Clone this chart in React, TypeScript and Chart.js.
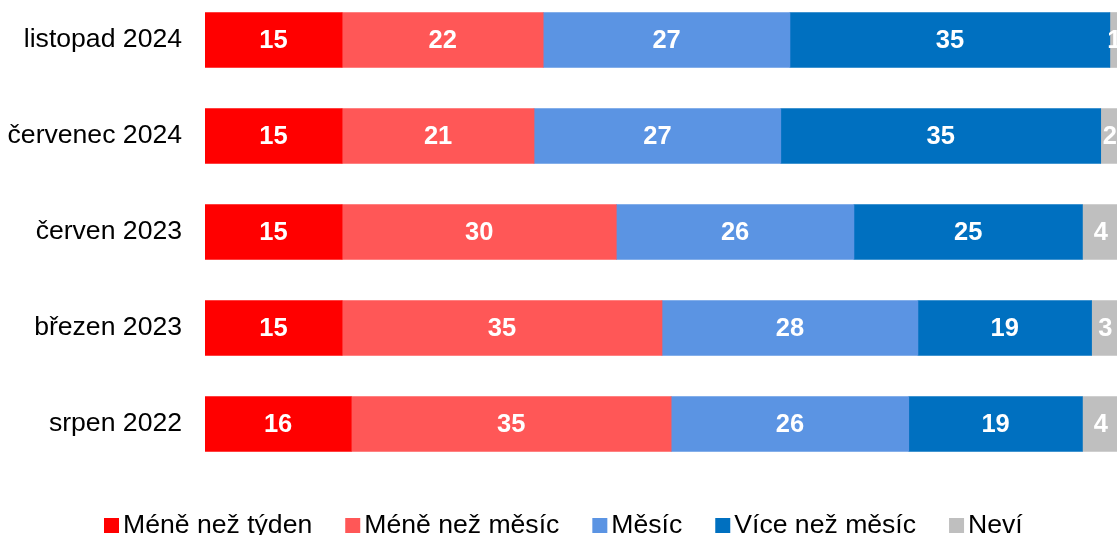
import React, { useEffect, useRef } from "react";
import { Chart, registerables } from "chart.js";

Chart.register(...registerables);

const categories = ["listopad 2024", "červenec 2024", "červen 2023", "březen 2023", "srpen 2022"];
const seriesNames = ["Méně než týden", "Méně než měsíc", "Měsíc", "Více než měsíc", "Neví"];
const lessThanWeek = [15, 15, 15, 15, 16];
const lessThanMonth = [22, 21, 30, 35, 35];
const month = [27, 27, 26, 28, 26];
const moreThanMonth = [35, 35, 25, 19, 19];
const dontKnow = [1, 2, 4, 3, 4];
const colors = ["#FF0000", "#FF5757", "#5B94E3", "#0070C0", "#BFBFBF"];

const FONT = "'Liberation Sans', Arial, sans-serif";

const valueLabels = {
  id: "valueLabels",
  afterDatasetsDraw(chart: any) {
    const ctx = chart.ctx;
    ctx.save();
    ctx.font = `bold 25.5px ${FONT}`;
    ctx.fillStyle = "#FFFFFF";
    ctx.textAlign = "center";
    ctx.textBaseline = "middle";
    chart.data.datasets.forEach((ds: any, di: number) => {
      const meta = chart.getDatasetMeta(di);
      meta.data.forEach((el: any, i: number) => {
        const c = el.getCenterPoint();
        ctx.fillText(String(ds.data[i]), c.x, c.y + 1);
      });
    });
    ctx.restore();
  },
};

const customLegend = {
  id: "customLegend",
  afterDraw(chart: any) {
    const ctx = chart.ctx;
    ctx.save();
    ctx.font = `26.6px ${FONT}`;
    ctx.textBaseline = "alphabetic";
    ctx.textAlign = "left";
    let x = 104;
    const baseY = chart.chartArea.bottom + 61;
    chart.data.datasets.forEach((ds: any) => {
      ctx.fillStyle = ds.backgroundColor;
      ctx.fillRect(x, baseY - 15, 15, 15);
      ctx.fillStyle = "#000000";
      ctx.fillText(ds.label, x + 19, baseY);
      x += 19 + ctx.measureText(ds.label).width + 33;
    });
    ctx.restore();
  },
};

export default function App() {
  const ref = useRef<HTMLCanvasElement | null>(null);
  useEffect(() => {
    if (!ref.current) return;
    const values = [lessThanWeek, lessThanMonth, month, moreThanMonth, dontKnow];
    const chart = new Chart(ref.current, {
      type: "bar",
      data: {
        labels: categories,
        datasets: seriesNames.map((name, i) => ({
          label: name,
          data: values[i],
          backgroundColor: colors[i],
          borderWidth: 0,
          barThickness: 55,
        })),
      },
      options: {
        indexAxis: "y",
        animation: false,
        responsive: false,
        maintainAspectRatio: false,
        layout: { padding: { top: 12, bottom: 88, left: 0, right: 11 } },
        plugins: {
          legend: { display: false },
          tooltip: { enabled: false },
        },
        scales: {
          x: { stacked: true, display: false, min: 0, max: 100 },
          y: {
            stacked: true,
            grid: { display: false, drawTicks: false },
            border: { display: false },
            ticks: {
              color: "#000000",
              padding: 23,
              font: { family: FONT, size: 26.6 },
            },
            afterFit(scale: any) {
              scale.width = 205;
              scale.paddingTop = 0;
              scale.paddingBottom = 0;
            },
          },
        },
      },
      plugins: [valueLabels, customLegend],
    });
    return () => chart.destroy();
  }, []);
  return (
    <div style={{ position: "fixed", inset: 0, overflow: "hidden", background: "#fff" }}>
      <div style={{ position: "absolute", top: -20, left: 0, width: 1130, height: 580 }}>
        <canvas ref={ref} width={1130} height={580} style={{ display: "block" }} />
      </div>
    </div>
  );
}
